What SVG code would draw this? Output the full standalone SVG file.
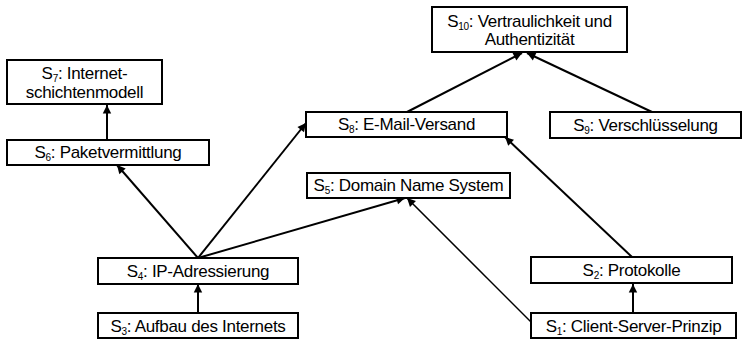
<svg xmlns="http://www.w3.org/2000/svg" width="743" height="340" viewBox="0 0 743 340">
<style>
.box{fill:#fff;stroke:#000;stroke-width:2}
.t{font-family:"Liberation Sans",Arial,sans-serif;font-size:17px;letter-spacing:-0.3px;fill:#000;text-anchor:middle}
.sub{font-size:10px}
.c{stroke:#000;stroke-width:2;fill:none;marker-end:url(#ah)}
</style>
<defs>
<marker id="ah" viewBox="0 0 10 10" refX="10" refY="5" markerWidth="6" markerHeight="6" markerUnits="userSpaceOnUse" orient="auto" style="overflow:visible">
<path d="M0,0 L10,5 L0,10 z" fill="#000" transform="scale(1.4) translate(-2.9,-1.45)"/>
</marker>
</defs>
<g id="connectors">
<line class="c" x1="198" y1="313" x2="198" y2="284"/>
<line class="c" x1="198" y1="258" x2="117" y2="165"/>
<line class="c" x1="198" y1="258" x2="306" y2="123"/>
<line class="c" x1="198" y1="258" x2="405" y2="198"/>
<line class="c" x1="531" y1="322" x2="407" y2="198" style="stroke-width:1.5"/>
<line class="c" x1="632" y1="257" x2="505" y2="137"/>
<line class="c" x1="633" y1="313" x2="633" y2="284"/>
<line class="c" x1="107" y1="140" x2="107" y2="105"/>
<line class="c" x1="407" y1="112" x2="522" y2="53"/>
<line class="c" x1="652" y1="112" x2="527" y2="53"/>
</g>
<g id="S10"><rect class="box" x="432" y="7" width="195" height="45"/><text class="t" x="529.5" y="27">S<tspan class="sub" dy="3">10</tspan><tspan dy="-3">: Vertraulichkeit und</tspan></text><text class="t" x="529.5" y="45">Authentizität</text></g>
<g id="S7"><rect class="box" x="7" y="60" width="155" height="44"/><text class="t" x="84.5" y="79">S<tspan class="sub" dy="3">7</tspan><tspan dy="-3">: Internet-</tspan></text><text class="t" x="84.5" y="98">schichtenmodell</text></g>
<g id="S6"><rect class="box" x="7" y="140" width="202" height="25"/><text class="t" x="108" y="158">S<tspan class="sub" dy="3">6</tspan><tspan dy="-3">: Paketvermittlung</tspan></text></g>
<g id="S8"><rect class="box" x="306" y="112" width="201" height="25"/><text class="t" x="406.5" y="130">S<tspan class="sub" dy="3">8</tspan><tspan dy="-3">: E-Mail-Versand</tspan></text></g>
<g id="S9"><rect class="box" x="550" y="112" width="191" height="26"/><text class="t" x="645.5" y="131">S<tspan class="sub" dy="3">9</tspan><tspan dy="-3">: Verschlüsselung</tspan></text></g>
<g id="S5"><rect class="box" x="307" y="173" width="203" height="25"/><text class="t" x="408.5" y="191">S<tspan class="sub" dy="3">5</tspan><tspan dy="-3">: Domain Name System</tspan></text></g>
<g id="S4"><rect class="box" x="98" y="258" width="200" height="26"/><text class="t" x="198" y="277">S<tspan class="sub" dy="3">4</tspan><tspan dy="-3">: IP-Adressierung</tspan></text></g>
<g id="S3"><rect class="box" x="98" y="313" width="200" height="25"/><text class="t" x="198" y="332">S<tspan class="sub" dy="3">3</tspan><tspan dy="-3">: Aufbau des Internets</tspan></text></g>
<g id="S2"><rect class="box" x="531" y="257" width="201" height="26"/><text class="t" x="631.5" y="276">S<tspan class="sub" dy="3">2</tspan><tspan dy="-3">: Protokolle</tspan></text></g>
<g id="S1"><rect class="box" x="531" y="313" width="205" height="25"/><text class="t" x="633.5" y="332">S<tspan class="sub" dy="3">1</tspan><tspan dy="-3">: Client-Server-Prinzip</tspan></text></g>
</svg>
